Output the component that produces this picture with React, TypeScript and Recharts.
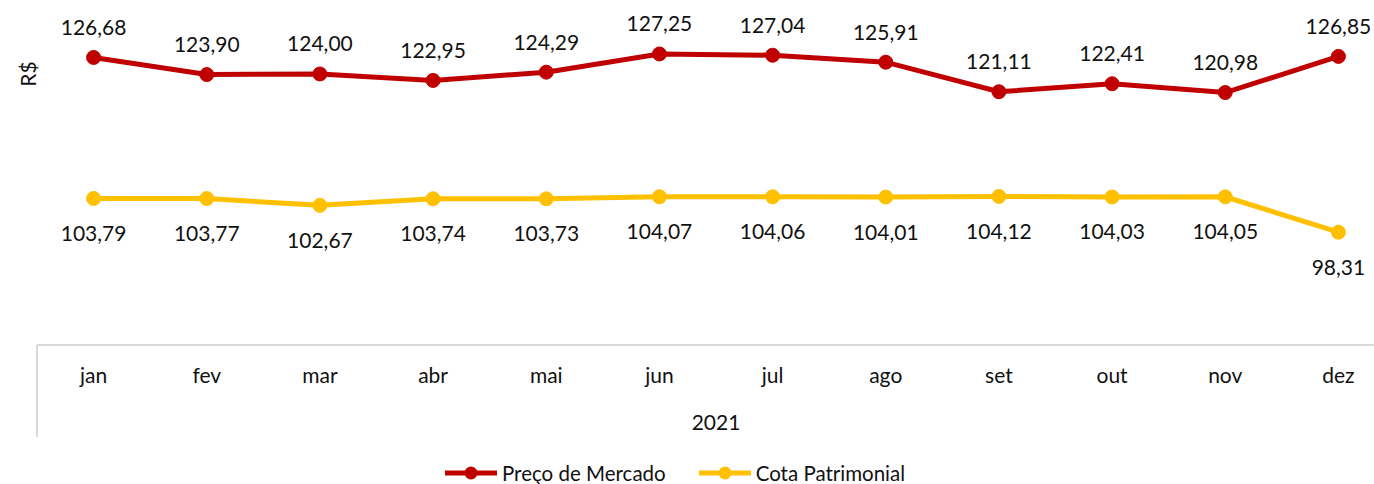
import React from 'react';
import { LineChart, Line, XAxis, YAxis, LabelList, Legend } from 'recharts';

const months = ['jan', 'fev', 'mar', 'abr', 'mai', 'jun', 'jul', 'ago', 'set', 'out', 'nov', 'dez'];
const precoMercado = [126.68, 123.9, 124.0, 122.95, 124.29, 127.25, 127.04, 125.91, 121.11, 122.41, 120.98, 126.85];
const cotaPatrimonial = [103.79, 103.77, 102.67, 103.74, 103.73, 104.07, 104.06, 104.01, 104.12, 104.03, 104.05, 98.31];
const yearLabel = '2021';
const yAxisTitle = 'R$';
const seriesNames = ['Preço de Mercado', 'Cota Patrimonial'];

const RED = '#C00000';
const YELLOW = '#FFC000';
const TEXT = '#111111';
const FONT = 'Lato, "Open Sans", sans-serif';
const FS = 21;
const GRID = '#d9d9d9';

const CHART_W = 1396;
const CHART_H = 484;
const MARGIN = { top: 37, right: 1, left: 37, bottom: 47 };
const PLOT_W = CHART_W - MARGIN.left - MARGIN.right;
const BAND = PLOT_W / months.length;
const AXIS_H = 92;

const data = months.map((m, i) => ({ month: m, preco: precoMercado[i], cota: cotaPatrimonial[i] }));

const fmt = (v: number) => v.toFixed(2).replace('.', ',');

const makeLabel = (dy: number) => (props: any) => {
  const { x, y, value } = props;
  return (
    <text x={x} y={y + dy + 7.5} textAnchor="middle" fill={TEXT} fontSize={FS} fontFamily={FONT}>
      {fmt(value)}
    </text>
  );
};

const MonthTick = (props: any) => {
  const { x, y, payload, index } = props;
  return (
    <g>
      {index === 0 && (
        <line x1={x - BAND / 2} y1={y} x2={x - BAND / 2} y2={y + AXIS_H} stroke={GRID} strokeWidth={2} />
      )}
      <text x={x} y={y + 38} textAnchor="middle" fill={TEXT} fontSize={FS} fontFamily={FONT}>
        {payload.value}
      </text>
    </g>
  );
};

const LegendContent = () => {
  const items = [
    { name: seriesNames[0], color: RED },
    { name: seriesNames[1], color: YELLOW },
  ];
  return (
    <div style={{ display: 'flex', alignItems: 'center', fontFamily: FONT, fontSize: 20.5, color: TEXT }}>
      {items.map((it, i) => (
        <div key={it.name} style={{ display: 'flex', alignItems: 'center', marginRight: i === 0 ? 33 : 0 }}>
          <svg width={52} height={16} style={{ marginRight: 5 }}>
            <line x1={0} y1={8} x2={52} y2={8} stroke={it.color} strokeWidth={5} />
            <circle cx={26} cy={8} r={6.5} fill={it.color} />
          </svg>
          <span style={{ lineHeight: '24px' }}>{it.name}</span>
        </div>
      ))}
    </div>
  );
};

export default function App() {
  return (
    <div style={{ position: 'absolute', left: 0, top: 0, width: 1374, height: 484, overflow: 'hidden', background: '#fff' }}>
      <LineChart width={CHART_W} height={CHART_H} data={data} margin={MARGIN}>
        <XAxis
          dataKey="month"
          height={AXIS_H}
          padding={{ left: BAND / 2, right: BAND / 2 }}
          axisLine={{ stroke: GRID, strokeWidth: 2 }}
          tickLine={false}
          tickSize={0}
          tickMargin={0}
          interval={0}
          tick={<MonthTick />}
          label={{ value: yearLabel, position: 'insideBottom', offset: 7, fill: TEXT, fontSize: FS, fontFamily: FONT }}
        />
        <YAxis domain={[80, 130]} hide />
        <Legend
          layout="horizontal"
          verticalAlign="middle"
          align="center"
          content={<LegendContent />}
          wrapperStyle={{ top: 461, left: 445, width: 520, height: 24 }}
        />
        <Line
          type="linear"
          dataKey="preco"
          name={seriesNames[0]}
          stroke={RED}
          strokeWidth={5}
          dot={{ r: 7, fill: RED, stroke: RED, strokeWidth: 1 }}
          activeDot={false}
          isAnimationActive={false}
        >
          <LabelList dataKey="preco" content={makeLabel(-30)} />
        </Line>
        <Line
          type="linear"
          dataKey="cota"
          name={seriesNames[1]}
          stroke={YELLOW}
          strokeWidth={5}
          dot={{ r: 7, fill: YELLOW, stroke: YELLOW, strokeWidth: 1 }}
          activeDot={false}
          isAnimationActive={false}
        >
          <LabelList dataKey="cota" content={makeLabel(35)} />
        </Line>
      </LineChart>
      <div
        style={{
          position: 'absolute',
          left: 27,
          top: 73.5,
          transform: 'translate(-50%, -50%) rotate(-90deg)',
          fontFamily: FONT,
          fontSize: FS,
          color: TEXT,
          lineHeight: 1,
          whiteSpace: 'nowrap',
        }}
      >
        {yAxisTitle}
      </div>
    </div>
  );
}
